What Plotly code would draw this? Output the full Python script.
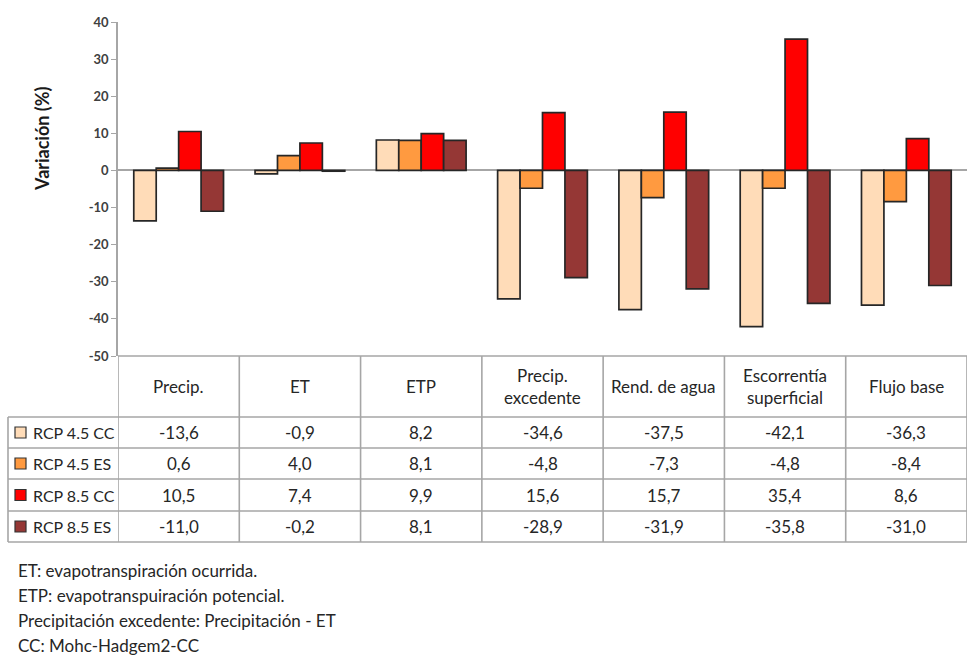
import plotly.graph_objects as go

# ---- data ----
categories = ["Precip.", "ET", "ETP", "Precip.<br>excedente", "Rend. de agua",
              "Escorrentía<br>superficial", "Flujo base"]
series_names = ["RCP 4.5 CC", "RCP 4.5 ES", "RCP 8.5 CC", "RCP 8.5 ES"]
rcp45_cc = [-13.6, -0.9, 8.2, -34.6, -37.5, -42.1, -36.3]
rcp45_es = [0.6, 4.0, 8.1, -4.8, -7.3, -4.8, -8.4]
rcp85_cc = [10.5, 7.4, 9.9, 15.6, 15.7, 35.4, 8.6]
rcp85_es = [-11.0, -0.2, 8.1, -28.9, -31.9, -35.8, -31.0]
series_values = [rcp45_cc, rcp45_es, rcp85_cc, rcp85_es]
series_colors = ["#FFDCB8", "#FF9A40", "#FF0000", "#953735"]
footnotes = [
    "ET: evapotranspiración ocurrida.",
    "ETP: evapotranspuiración potencial.",
    "Precipitación excedente: Precipitación - ET",
    "CC: Mohc-Hadgem2-CC",
]
y_ticks = list(range(-50, 41, 10))
y_ticktext = [str(t) for t in y_ticks]

# ---- geometry (pixels of a 969 x 657 canvas) ----
W, H = 969, 657
FONT = "Lato, 'Open Sans', sans-serif"
TXT = "#262626"
GRID = "#A6A6A6"
FS = 17


def px(x):
    return x / W


def py(y):
    return 1 - y / H


plot_left, plot_right = 118, 967
plot_top, plot_bottom = 22, 356
table_left = 8
row_edges = [356, 417, 448, 479, 511, 542]

x_idx = list(range(len(categories)))

fig = go.Figure()
for name, vals, col in zip(series_names, series_values, series_colors):
    fig.add_trace(go.Bar(
        x=x_idx, y=vals, name=name,
        marker=dict(color=col, line=dict(color="#262626", width=1.7)),
        showlegend=False,
    ))

shapes = []
annotations = []


def label(x, y, text, xref="paper", xanchor="center", size=FS, color=TXT, **kw):
    annotations.append(dict(x=x, y=y, xref=xref, yref="paper", text=text,
                            showarrow=False, xanchor=xanchor, yanchor="middle",
                            font=dict(family=FONT, size=size, color=color), **kw))


# table grid: horizontal lines
for i, ry in enumerate(row_edges):
    x0 = plot_left if i == 0 else table_left
    shapes.append(dict(type="line", xref="paper", yref="paper",
                       x0=px(x0), x1=px(plot_right), y0=py(ry), y1=py(ry),
                       line=dict(color=GRID, width=1.6)))
# table grid: vertical lines at category boundaries
for k in range(len(categories) + 1):
    shapes.append(dict(type="line", xref="x", yref="paper",
                       x0=k - 0.5, x1=k - 0.5, y0=py(row_edges[0]), y1=py(row_edges[-1]),
                       line=dict(color=GRID, width=1.6)))
shapes.append(dict(type="line", xref="paper", yref="paper",
                   x0=px(table_left), x1=px(table_left),
                   y0=py(row_edges[1]), y1=py(row_edges[-1]),
                   line=dict(color=GRID, width=1.6)))

# header row: category names
hdr_mid = (row_edges[0] + row_edges[1]) / 2
for k, cat in enumerate(categories):
    label(k, py(hdr_mid), cat, xref="x")

# data rows: legend key, series name and values
for r, (name, vals, col) in enumerate(zip(series_names, series_values, series_colors)):
    mid = (row_edges[r + 1] + row_edges[r + 2]) / 2
    shapes.append(dict(type="rect", xref="paper", yref="paper",
                       x0=px(15), x1=px(26), y0=py(mid + 5.5), y1=py(mid - 5.5),
                       fillcolor=col, line=dict(color="#333333", width=1.2)))
    label(px(31), py(mid), name, xanchor="left", size=16)
    for k, v in enumerate(vals):
        label(k, py(mid), f"{v:.1f}".replace(".", ","), xref="x")

# y-axis title
label(px(42), py(139), "<b>Variación (%)</b>", size=18, color="#1A1A1A", textangle=-90)

# footnotes
for i, note in enumerate(footnotes):
    label(px(16), py(570 + 25 * i), note, xanchor="left")

fig.update_layout(
    width=W, height=H,
    margin=dict(l=0, r=0, t=0, b=0, autoexpand=False),
    paper_bgcolor="white", plot_bgcolor="white",
    barmode="group", bargap=0.26, bargroupgap=0,
    shapes=shapes, annotations=annotations,
    xaxis=dict(domain=[px(plot_left), px(plot_right)], range=[-0.5, len(categories) - 0.5],
               showticklabels=False, showgrid=False, zeroline=False, showline=False,
               automargin=False, fixedrange=True),
    yaxis=dict(domain=[py(plot_bottom), py(plot_top)], range=[-50, 40],
               tickvals=y_ticks, ticktext=y_ticktext, ticks="outside", ticklen=5,
               tickcolor=GRID, showline=True, linecolor=GRID, linewidth=1.6,
               showgrid=False, zeroline=True, zerolinecolor=GRID, zerolinewidth=1.6,
               tickfont=dict(family=FONT, size=13, color="#404040", weight="bold"),
               automargin=False, fixedrange=True),
)

fig.write_html("out.html")
